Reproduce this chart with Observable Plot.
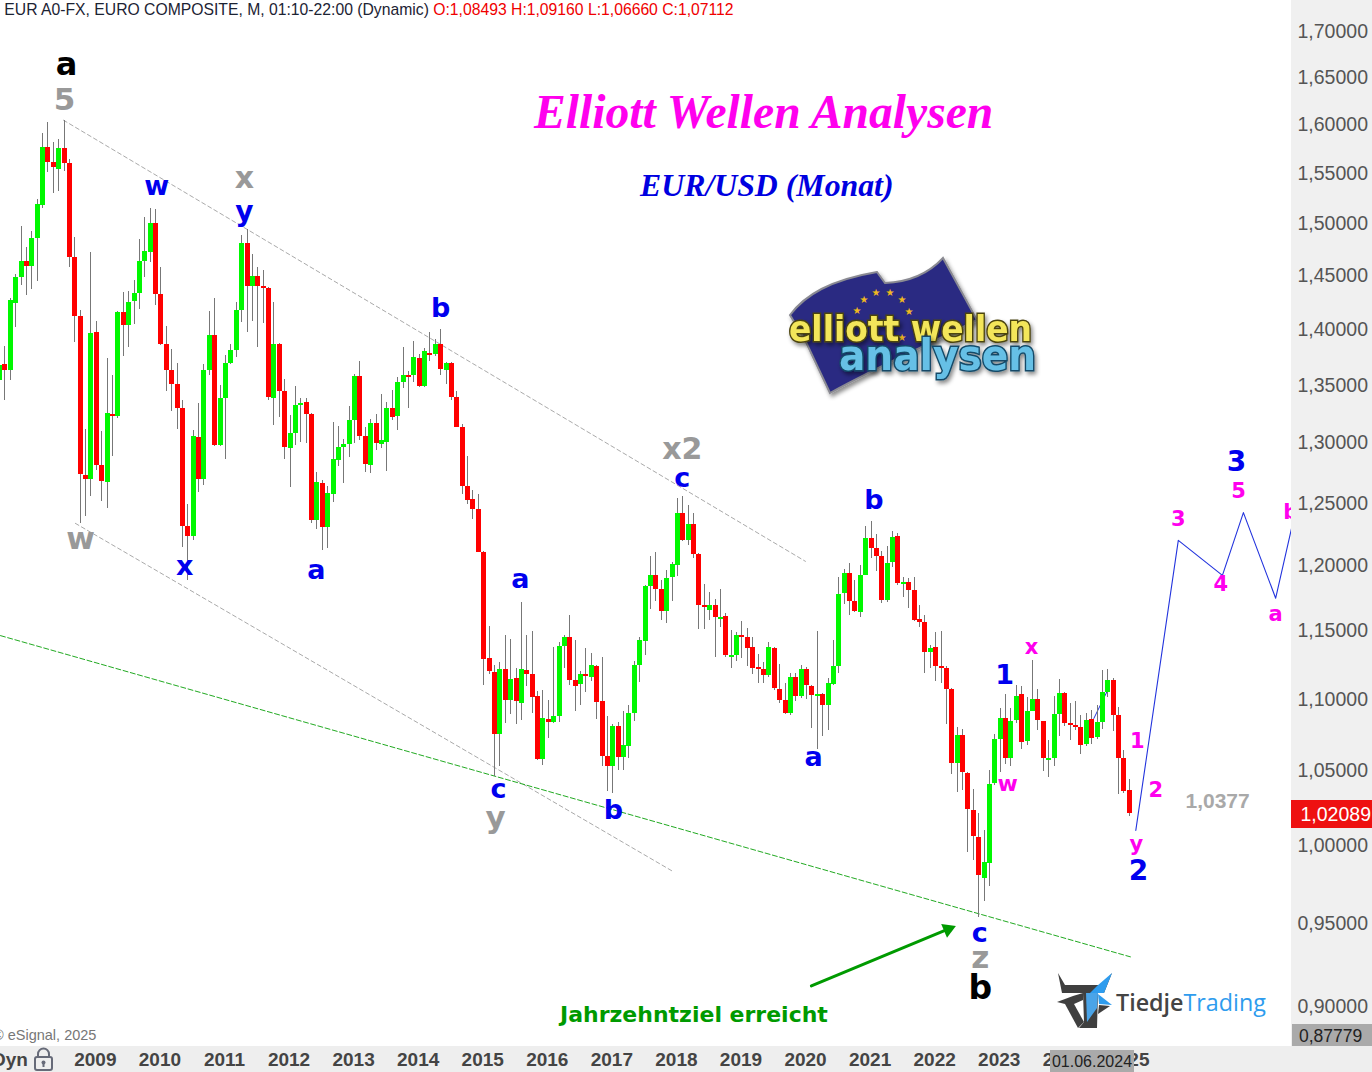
<!DOCTYPE html>
<html><head><meta charset="utf-8">
<script src="https://cdn.jsdelivr.net/npm/d3@7"></script>
<script src="https://cdn.jsdelivr.net/npm/@observablehq/plot@0.6"></script>
<style>
html,body{margin:0;padding:0;background:#fff}
#wrap{position:relative;width:1372px;height:1072px;overflow:hidden;font-family:"Liberation Sans",Arial,sans-serif}
#wrap>div,#wrap>svg{position:absolute}
.h{white-space:nowrap}
</style></head><body>
<div id="wrap">
<div style="left:1291px;top:0;width:81px;height:1072px;background:#f0f0f0"></div>
<div style="left:0;top:1046px;width:1372px;height:26px;background:#eeeeee"></div>
</div>
<script>
// Monthly candles: first entry is July 2007, last is January 2025
const opens=[1.3536,1.3682,1.3627,1.4240,1.4481,1.4635,1.4587,1.4856,1.5180,1.5765,1.5612,1.5541,1.5755,1.5602,1.4674,1.4119,1.2726,1.2693,1.3973,1.2809,1.2668,1.3242,1.3225,1.4156,1.4035,1.4258,1.4333,1.4635,1.4722,1.50,1.4323,1.3864,1.3627,1.35,1.3294,1.2310,1.2232,1.3043,1.2693,1.3627,1.3945,1.2975,1.3380,1.3691,1.3809,1.4175,1.4808,1.4398,1.4491,1.4398,1.4379,1.3380,1.3864,1.3440,1.2950,1.3078,1.3319,1.3345,1.3242,1.2358,1.2660,1.2303,1.2568,1.2851,1.2959,1.2983,1.3190,1.3572,1.3052,1.2809,1.3165,1.2983,1.30,1.3294,1.3225,1.3518,1.3581,1.3581,1.3736,1.3483,1.3782,1.3773,1.3864,1.3627,1.3691,1.3388,1.3130,1.2635,1.2527,1.2445,1.2098,1.1294,1.1191,1.0745,1.1213,1.0986,1.1147,1.0966,1.1206,1.1177,1.1015,1.0572,1.0855,1.0834,1.0876,1.1382,1.1449,1.1132,1.1103,1.1177,1.1154,1.1235,1.0979,1.0593,1.0524,1.0800,1.0586,1.0662,1.0897,1.1243,1.1419,1.1839,1.1923,1.1815,1.1646,1.1908,1.20,1.2413,1.2200,1.2326,1.2082,1.1692,1.1654,1.1692,1.1585,1.1608,1.1302,1.1316,1.1463,1.1449,1.1375,1.1228,1.1213,1.1169,1.1368,1.1066,1.0986,1.0897,1.1154,1.1015,1.1213,1.1088,1.1015,1.1029,1.0952,1.1103,1.1235,1.1785,1.1938,1.1723,1.1639,1.1923,1.2216,1.2137,1.2074,1.1731,1.2024,1.2232,1.1854,1.1869,1.1808,1.1585,1.1562,1.1338,1.1375,1.1235,1.1221,1.1066,1.0545,1.0738,1.0480,1.0224,1.0048,0.9786,0.9880,1.0412,1.0710,1.0862,1.0579,1.0848,1.1029,1.0697,1.0910,1.0993,1.0841,1.0566,1.0579,1.0890,1.1037,1.0821,1.0807,1.0793,1.0676,1.0855,1.0724,1.0828,1.1044,1.1132,1.0883,1.0579,1.0364];
const closes=[1.3672,1.3627,1.4268,1.4481,1.4635,1.4587,1.4856,1.5190,1.5765,1.5612,1.5561,1.5755,1.5602,1.4674,1.4119,1.2734,1.2693,1.3964,1.2809,1.2676,1.3251,1.3225,1.4156,1.4035,1.4249,1.4333,1.4635,1.4731,1.50,1.4323,1.3864,1.3627,1.35,1.3294,1.2310,1.2232,1.3052,1.2693,1.3627,1.3945,1.2975,1.3380,1.3691,1.3809,1.4175,1.4808,1.4398,1.4491,1.4398,1.4379,1.3388,1.3864,1.3440,1.2959,1.3078,1.3319,1.3337,1.3242,1.2358,1.2668,1.2303,1.2577,1.2859,1.2959,1.2983,1.3190,1.3572,1.3052,1.2817,1.3165,1.2992,1.3017,1.3294,1.3216,1.3518,1.3581,1.3563,1.3745,1.3483,1.3800,1.3763,1.3864,1.3636,1.3691,1.3388,1.3130,1.2635,1.2519,1.2445,1.2098,1.1287,1.1199,1.0745,1.1213,1.0986,1.1140,1.0979,1.1213,1.1177,1.1007,1.0572,1.0862,1.0834,1.0876,1.1382,1.1449,1.1132,1.1088,1.1177,1.1162,1.1243,1.0972,1.0593,1.0524,1.0800,1.0586,1.0669,1.0897,1.1243,1.1427,1.1839,1.1923,1.1815,1.1646,1.1900,1.2008,1.2413,1.2200,1.2326,1.2082,1.1692,1.1677,1.1692,1.1600,1.1600,1.1316,1.1316,1.1463,1.1449,1.1368,1.1221,1.1213,1.1169,1.1375,1.1074,1.0986,1.0897,1.1154,1.1015,1.1213,1.1096,1.1022,1.1029,1.0952,1.1110,1.1235,1.1777,1.1938,1.1723,1.1646,1.1923,1.2216,1.2137,1.2074,1.1731,1.2016,1.2224,1.1862,1.1869,1.1808,1.1577,1.1562,1.1338,1.1368,1.1235,1.1221,1.1066,1.0545,1.0738,1.0486,1.0231,1.0054,0.9805,0.9887,1.0405,1.0710,1.0862,1.0579,1.0841,1.1015,1.0690,1.0910,1.0993,1.0848,1.0579,1.0579,1.0890,1.1037,1.0821,1.0807,1.0793,1.0669,1.0848,1.0717,1.0828,1.1044,1.1132,1.0883,1.0579,1.0357,1.02089];
const highs=[1.3700,1.3845,1.4286,1.4510,1.4971,1.4770,1.4923,1.5240,1.5908,1.6021,1.5816,1.5847,1.6044,1.5633,1.4866,1.4175,1.3113,1.4722,1.4072,1.3096,1.3736,1.3581,1.4165,1.4342,1.4351,1.4454,1.4846,1.5060,1.5150,1.5140,1.4578,1.4026,1.3818,1.3691,1.3362,1.2484,1.3104,1.3337,1.3682,1.4165,1.4286,1.3491,1.3763,1.3864,1.4249,1.4885,1.4942,1.4702,1.4578,1.4549,1.4388,1.4249,1.3873,1.3545,1.3233,1.3483,1.3380,1.3380,1.3251,1.2751,1.2685,1.2635,1.3173,1.3139,1.3026,1.3311,1.3591,1.3709,1.3130,1.3199,1.3242,1.3414,1.3345,1.3448,1.3563,1.3836,1.3618,1.3891,1.3773,1.3827,1.3973,1.3909,1.40,1.3700,1.3700,1.3440,1.3156,1.2884,1.2602,1.2568,1.2113,1.1531,1.1243,1.1265,1.1463,1.1434,1.1221,1.1715,1.1463,1.1493,1.1051,1.1059,1.0986,1.1375,1.1412,1.1463,1.1616,1.1427,1.1199,1.1368,1.1331,1.1243,1.1302,1.0876,1.0814,1.0834,1.0910,1.0952,1.1272,1.1449,1.1846,1.2074,1.2098,1.1885,1.1962,1.2024,1.2533,1.2552,1.2476,1.2413,1.2090,1.1854,1.1792,1.1739,1.1815,1.1631,1.15,1.1485,1.1569,1.1515,1.1449,1.1324,1.1265,1.1412,1.1375,1.1250,1.1110,1.1184,1.1184,1.1243,1.1228,1.1096,1.1493,1.1037,1.1147,1.1427,1.1908,1.1969,1.2016,1.1885,1.20,1.2310,1.2350,1.2247,1.2113,1.2153,1.2271,1.2255,1.1908,1.1900,1.1908,1.1692,1.1616,1.1390,1.1485,1.1493,1.1235,1.1074,1.0793,1.0779,1.0486,1.0371,1.0204,1.0095,1.05,1.0745,1.0931,1.1029,1.0931,1.1096,1.1088,1.1007,1.1280,1.1066,1.0841,1.0703,1.1015,1.1140,1.1044,1.0966,1.0979,1.0883,1.0897,1.0917,1.0952,1.1206,1.1213,1.1147,1.0938,1.0634,1.0439];
const lows=[1.3509,1.3362,1.3536,1.4016,1.4407,1.4314,1.4370,1.4444,1.5150,1.5510,1.5290,1.5310,1.5520,1.4578,1.3882,1.2334,1.2389,1.2552,1.2768,1.2510,1.2453,1.2884,1.3208,1.3754,1.3836,1.4044,1.4184,1.4481,1.4626,1.4221,1.3854,1.3440,1.3268,1.3113,1.2145,1.1885,1.2200,1.2585,1.2643,1.3581,1.2967,1.2967,1.2859,1.3682,1.3745,1.4063,1.3973,1.4072,1.3836,1.4054,1.3362,1.3147,1.3216,1.2859,1.2627,1.2975,1.30,1.2992,1.2334,1.2287,1.2121,1.2137,1.25,1.2801,1.2660,1.2876,1.2992,1.3017,1.2751,1.2743,1.2934,1.2950,1.2759,1.3190,1.3104,1.3466,1.3294,1.3518,1.3474,1.3474,1.3709,1.3754,1.3581,1.35,1.3362,1.3130,1.2568,1.2484,1.2366,1.2098,1.1096,1.1177,1.0459,1.0524,1.0821,1.0890,1.0814,1.0848,1.1088,1.0897,1.0566,1.0531,1.0717,1.0821,1.0828,1.1221,1.1096,1.0910,1.0952,1.1044,1.1125,1.0855,1.0524,1.0357,1.0344,1.05,1.05,1.0579,1.0841,1.1118,1.1316,1.1662,1.1723,1.1577,1.1554,1.1723,1.1915,1.2192,1.2161,1.2058,1.1508,1.1508,1.1577,1.1302,1.1523,1.1302,1.1221,1.1272,1.1294,1.1235,1.1177,1.1110,1.1110,1.1154,1.1059,1.0966,1.0890,1.0883,1.0979,1.10,1.0993,1.0786,1.0641,1.0731,1.0772,1.1096,1.1184,1.1700,1.1616,1.1639,1.1600,1.1923,1.2058,1.1954,1.1707,1.1715,1.1985,1.1846,1.1754,1.1669,1.1569,1.1523,1.1184,1.1221,1.1125,1.1110,1.0814,1.0473,1.0350,1.0364,0.9950,0.9899,0.9540,0.9635,0.9735,1.0398,1.0486,1.0538,1.0524,1.0821,1.0641,1.0669,1.0910,1.0772,1.0493,1.0452,1.0524,1.0731,1.0800,1.0703,1.0772,1.0607,1.0662,1.0676,1.0710,1.0779,1.1007,1.0766,1.0337,1.0344,1.0184];
const firstMonth=-1;

const priceTicks=[1.70,1.65,1.60,1.55,1.50,1.45,1.40,1.35,1.30,1.25,1.20,1.15,1.10,1.05,1.00,0.95,0.90];
const yearLabels=[2009,2010,2011,2012,2013,2014,2015,2016,2017,2018,2019,2020,2021,2022,2023,2024,2025];
const yearMonth=[17,29,41,53,65,77,89,101,113,125,137,149,161,173,185,197,209];

// Wave projection and helper lines, in month number and price
const projMonth=[210.2,218.1,226.3,230.2,236.2,239.2];
const projPrice=[1.0095,1.2198,1.1923,1.2421,1.1746,1.2303];
const hiddenMonth=[202.4,205.2];
const hiddenPrice=[1.0860,1.1080];
const upperChannelMonth=[10.89,148.8], upperChannelPrice=[1.6044,1.2032];
const lowerChannelMonth=[13.1,124.1], lowerChannelPrice=[1.2334,0.983];
const targetMonth=[-0.82,209.2], targetPrice=[1.1463,0.9296];
const arrowMonth=[149.9,175.3], arrowPrice=[0.9122,0.9465];

// Wave labels
const labelText =["a","5","w","x","y","b","x2","c","b","w","x","a","a","c","y","b","a","1","x","w","1","2","y","2","3","5","3","4","a","b","c","z","b"];
const labelMonth=[11.45,11.08,28.2,44.5,44.5,81,125.9,125.9,161.5,14.05,33.4,57.9,95.8,91.75,91.2,113.1,150.3,185.8,190.8,186.4,210.5,213.9,210.3,210.7,228.9,229.3,218.1,226,236.2,239,181.2,181.3,181.3];
const labelPrice=[1.6631,1.6254,1.537,1.545,1.511,1.4195,1.2942,1.2699,1.2517,1.2208,1.1992,1.1962,1.1892,1.0371,1.0177,1.0231,1.059,1.117,1.1374,1.0405,1.07,1.0364,1.0007,0.983,1.2834,1.2591,1.2366,1.1854,1.1623,1.2421,0.944,0.929,0.9108];
const K="#000000",G="#999999",B="#0000ee",M="#ff00ee";
const labelColor=[K,G,B,G,B,B,G,B,B,G,B,B,B,B,G,B,B,B,M,M,M,M,M,B,B,M,M,M,M,M,B,G,K];
const labelSize=[32,31,27,30,28,27,30,27,27,31,27,27,27,27,31,27,27,27,21,22,21,21,21,28,28,21,21,21,21,21,27,31,33];
const targetLabel=[{t:"1,0377",m:225.4,p:1.0292}];

const candles=opens.map((o,i)=>({m:i+firstMonth,o,c:closes[i],h:highs[i],l:lows[i]}));
const labels=labelText.map((t,i)=>({t,m:labelMonth[i],p:labelPrice[i],c:labelColor[i],s:labelSize[i]}));
const zip=(a,b)=>a.map((m,i)=>({m,p:b[i]}));
const comma=d=>d3.format(".5f")(d).replace(".",",");

const chart=Plot.plot({
  width:1372,height:1072,marginLeft:0,marginTop:0,marginRight:81,marginBottom:26,
  style:{background:"transparent",position:"absolute",left:"0",top:"0",fontFamily:"'Liberation Sans',Arial,sans-serif"},
  x:{type:"linear",domain:[-0.818,239.14],label:null},
  y:{type:"log",domain:[0.8768,1.7347],label:null},
  marks:[
    Plot.line(zip(hiddenMonth,hiddenPrice),{x:"m",y:"p",stroke:"#2233dd",strokeWidth:1}),
    Plot.line(zip(upperChannelMonth,upperChannelPrice),{x:"m",y:"p",stroke:"#aaaaaa",strokeWidth:1,strokeDasharray:"4 3"}),
    Plot.line(zip(lowerChannelMonth,lowerChannelPrice),{x:"m",y:"p",stroke:"#aaaaaa",strokeWidth:1,strokeDasharray:"4 3"}),
    Plot.line(zip(targetMonth,targetPrice),{x:"m",y:"p",stroke:"#22aa22",strokeWidth:1,strokeDasharray:"5 2.5"}),
    Plot.ruleX(candles,{x:"m",y1:"l",y2:"h",stroke:"#777777",strokeWidth:1,shapeRendering:"crispEdges"}),
    Plot.ruleX(candles.filter(d=>d.c>=d.o),{x:"m",y1:"o",y2:"c",stroke:"#00f800",strokeWidth:5,shapeRendering:"crispEdges"}),
    Plot.ruleX(candles.filter(d=>d.c<d.o),{x:"m",y1:"o",y2:"c",stroke:"#ff0000",strokeWidth:5,shapeRendering:"crispEdges"}),
    Plot.line(zip(projMonth,projPrice),{x:"m",y:"p",stroke:"#2233dd",strokeWidth:1.1,clip:true}),
    Plot.line(zip(arrowMonth,arrowPrice),{x:"m",y:"p",stroke:"#009a00",strokeWidth:3}),
    Plot.dot([{m:arrowMonth[1],p:arrowPrice[1]}],{x:"m",y:"p",symbol:"triangle",r:5.5,fill:"#009a00",rotate:67}),
    Plot.text(labels,{x:"m",y:"p",text:"t",fill:"c",fontSize:"s",fontWeight:"bold",fontFamily:"'DejaVu Sans',Verdana,sans-serif",clip:true}),
    Plot.text(targetLabel,{x:"m",y:"p",text:"t",fill:"#a9a9a9",fontSize:21,fontWeight:"bold",fontFamily:"'Liberation Sans',Arial,sans-serif"}),
    Plot.axisY({anchor:"right",ticks:priceTicks,tickSize:0,tickPadding:6,dy:0.5,tickFormat:comma,fontSize:19.5,color:"#555555",label:null}),
    Plot.axisX({anchor:"bottom",ticks:yearMonth,tickSize:0,tickPadding:6,dx:-1,tickFormat:m=>String(yearLabels[yearMonth.indexOf(m)]),fontSize:19,fontWeight:"bold",color:"#444444",label:null})
  ]
});
const wrap=document.getElementById("wrap");
wrap.appendChild(chart);

const overlay=`
<div class="h" style="left:-3px;top:1px;font-size:15.72px;line-height:18px;color:#1c2333">&#39; EUR A0-FX, EURO COMPOSITE, M, 01:10-22:00 (Dynamic) <span style="color:#f00000">O:1,08493 H:1,09160 L:1,06660 C:1,07112</span></div>
<div class="h" style="left:534px;top:85px;font:italic bold 47.6px 'Liberation Serif',serif;color:#ff00ee">Elliott Wellen Analysen</div>
<div class="h" style="left:640px;top:168px;font:italic bold 31.8px 'Liberation Serif',serif;color:#0000e0">EUR/USD (Monat)</div>
<div class="h" style="left:560px;top:1002px;font:bold 22px 'DejaVu Sans',Verdana,sans-serif;color:#009a00">Jahrzehntziel erreicht</div>
<div class="h" style="left:-7px;top:1027px;font-size:14.5px;color:#777">&copy; eSignal, 2025</div>
<div class="h" style="left:-8px;top:1049px;font-weight:bold;font-size:19px;color:#444">Dyn</div>
<svg style="left:32px;top:1046px" width="24" height="26"><rect x="3" y="11" width="17" height="13" rx="2" fill="none" stroke="#666a78" stroke-width="2"/><path d="M6 11V8a5.5 5.5 0 0 1 11 0v3" fill="none" stroke="#666a78" stroke-width="2"/><circle cx="11.5" cy="16.5" r="2" fill="#666a78"/><rect x="10.5" y="17" width="2" height="4" fill="#666a78"/></svg>
<div class="h" style="left:1291px;top:800px;width:81px;height:28px;background:#ee1111;color:#fff;font-size:19.5px;line-height:28px;text-align:right;padding-right:1px;box-sizing:border-box">1,02089</div>
<div class="h" style="left:1292px;top:1024px;width:80px;height:22px;background:#aaaaaa;color:#222;font-size:17.5px;line-height:24px;padding-left:7px;box-sizing:border-box">0,87779</div>
<div class="h" style="left:1050px;top:1050px;width:84px;height:22px;background:#aaaaaa;color:#222;font-size:16px;line-height:23px;text-align:center">01.06.2024</div>
<svg style="left:770px;top:240px" width="290" height="170">
 <defs><filter id="sh" x="-10%" y="-20%" width="120%" height="150%"><feDropShadow dx="2" dy="3" stdDeviation="2" flood-color="#000" flood-opacity=".45"/></filter></defs>
 <path d="M20 75C35 55 60 40 107 32L115 43C140 42 160 32 173 18L207 80C175 97 110 125 60 153L35 100Z" fill="#2a2c82" stroke="#8a8a92" stroke-width="2" filter="url(#sh)"/>
 <g fill="#f0b81e" font-size="10" font-family="DejaVu Sans" text-anchor="middle"><text x="94" y="63">★</text><text x="106" y="56">★</text><text x="120" y="56">★</text><text x="132" y="63">★</text><text x="139" y="75">★</text><text x="132" y="101">★</text><text x="87" y="74">★</text></g>
 <text x="19" y="101" font-family="'DejaVu Sans',sans-serif" font-size="36" font-weight="700" fill="#f3e65a" stroke="#4c4410" stroke-width="3" paint-order="stroke" textLength="243" lengthAdjust="spacingAndGlyphs" filter="url(#sh)">elliott wellen</text>
 <text x="69" y="130" font-family="'DejaVu Sans',sans-serif" font-size="42" font-weight="700" fill="#66c0e6" stroke="#134a68" stroke-width="3" paint-order="stroke" textLength="197" lengthAdjust="spacingAndGlyphs" filter="url(#sh)">analysen</text>
</svg>
<svg style="left:1050px;top:968px" width="70" height="66">
 <path d="M8 5L15 17H52L62 5L54 25H12Z" fill="#3f3f3f"/>
 <path d="M62 5L47 18L40 25H54Z" fill="#2e9cee"/>
 <path d="M7 34L23 28L33 25V32L24 36L15 36Z" fill="#3f3f3f"/>
 <path d="M15 36H24L34 54L28 60Z" fill="#3f3f3f"/>
 <path d="M33 25H48L47 60H29L34 54Z" fill="#3f3f3f"/>
 <path d="M36 25H48L47 40L37 54Z" fill="#4aa4e8"/>
 <path d="M48 26L62 37L49 36Z" fill="#2e9cee"/>
 <path d="M49 37L60 38L48 46Z" fill="#3f3f3f"/>
</svg>
<div class="h" style="left:1116px;top:983px;font:600 23.3px 'Open Sans',sans-serif;line-height:38px;color:#444">Tiedje<span style="color:#2e9cee;font-weight:400">Trading</span></div>
`;
wrap.insertAdjacentHTML("beforeend",overlay);
</script>
</body></html>
